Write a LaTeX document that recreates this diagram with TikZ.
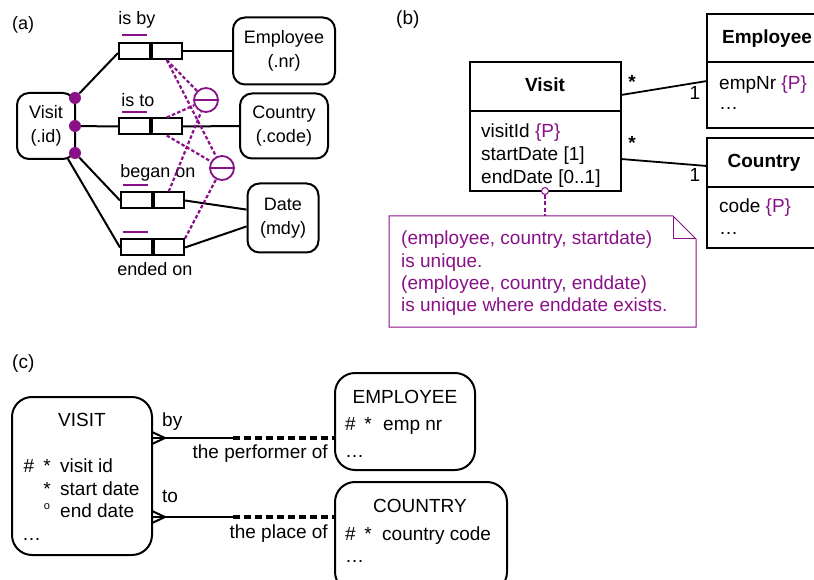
\documentclass[tikz,border=0pt]{standalone}
\usepackage{fontspec}
\setmainfont{Liberation Sans}
\usetikzlibrary{calc}
\definecolor{accent}{RGB}{136,17,136}
\begin{document}
\begin{tikzpicture}[x=1pt,y=-1pt,
  fa/.style={font=\fontsize{18}{24}\selectfont},
  fb/.style={font=\fontsize{19}{23}\selectfont},
  ormobj/.style={draw, line width=2pt, rounded corners=12pt, align=center, fa, inner sep=0pt},
  rolecell/.style={draw, line width=2pt, minimum width=30.5pt, minimum height=16pt, inner sep=0pt},
  refdot/.style={circle, fill=accent, minimum size=12pt, inner sep=0pt},
  ucirc/.style={circle, draw=accent, line width=1.8pt, minimum size=24pt, inner sep=0pt},
  ubar/.style={accent, line width=2.6pt},
  conn/.style={line width=2pt},
  pdash/.style={accent, line width=2.2pt, dash pattern=on 3.5pt off 2.2pt},
  umlbox/.style={draw, line width=2.4pt},
  lbl/.style={inner sep=0pt},
  erbox/.style={draw, line width=2pt, rounded corners=20pt, inner sep=0pt},
  erline/.style={line width=2pt},
  erdash/.style={line width=3.2pt, dash pattern=on 7pt off 4pt},
]
\clip (0,0) rectangle (814,580);

% ---------------- (a) ORM schema ----------------
\node[lbl, fa, anchor=base west] (labA) at (12,30) {(a)};

\node[ormobj, minimum width=58pt, minimum height=66pt] (visitA) at (46,126) {Visit\\(.id)};
\node[ormobj, minimum width=102pt, minimum height=67pt] (empA) at (284,51) {Employee\\(.nr)};
\node[ormobj, minimum width=88pt, minimum height=65pt] (ctyA) at (284,126) {Country\\(.code)};
\node[ormobj, minimum width=71pt, minimum height=69pt] (dateA) at (283,218) {Date\\(mdy)};

% role boxes
\node[rolecell] (byL) at (134.25,51) {};
\node[rolecell, anchor=west] (byR) at (byL.east) {};
\node[rolecell] (toL) at (134.25,126.5) {};
\node[rolecell, anchor=west] (toR) at (toL.east) {};
\node[rolecell] (begL) at (136.25,200.5) {};
\node[rolecell, anchor=west] (begR) at (begL.east) {};
\node[rolecell] (endL) at (136.25,247.5) {};
\node[rolecell, anchor=west] (endR) at (endL.east) {};

% reading labels
\node[lbl, fa] (lby) at (137,20) {is by};
\node[lbl, fa] (lto) at (138,100) {is to};
\node[lbl, fa] (lbeg) at (158,173) {began on};
\node[lbl, fa] (lend) at (155,269) {ended on};

% uniqueness bars
\draw[ubar] (122,35) -- (147,35);
\draw[ubar] (122,112) -- (147,112);
\draw[ubar] (123,185) -- (148,185);
\draw[ubar] (123,232) -- (148,232);

% mandatory role dots
\node[refdot] (m1) at (75,98) {};
\node[refdot] (m2) at (75,126) {};
\node[refdot] (m3) at (75,153) {};
\coordinate (vbot) at (68,159);

% role connectors
\draw[conn] (m1) -- ($(byL.west)+(0,2)$);
\draw[conn] (m2) -- (toL.west);
\draw[conn] (m3) -- (begL.west);
\draw[conn] (vbot) -- (endL.west);
\draw[conn] (byR.east) -- (empA.west);
\draw[conn] (toR.east) -- (ctyA.west);
\draw[conn] (begR.east) -- (dateA.167);
\draw[conn] (endR.east) -- (dateA.193);

% external uniqueness constraints
\node[ucirc] (u1) at (206,100) {};
\node[ucirc] (u2) at (222,168) {};
\draw[accent, line width=1.8pt] (u1.west) -- (u1.east);
\draw[accent, line width=1.8pt] (u2.west) -- (u2.east);

\draw[pdash] (byR.south) -- (u1);
\draw[pdash] (byR.south) -- (u2);
\draw[pdash] (toR.north) -- (u1);
\draw[pdash] (toR.south) -- (u2);
\draw[pdash] (begR.north) -- (u1);
\draw[pdash] (endR.north east) -- (u2);

% ---------------- (b) UML class diagram ----------------
\node[lbl, fb, anchor=base west] (labB) at (396,25) {(b)};

\node[umlbox, minimum width=151pt, minimum height=129pt, inner sep=0pt] (visitB) at (545.5,126.5) {};
\draw[line width=2.4pt] (470,111) -- (621,111);
\node[lbl, fb, anchor=base] (visitT) at (545,92) {\bfseries Visit};
\node[lbl, fb, anchor=base west] (va1) at (481,138) {visitId \textcolor{accent}{\{P\}}};
\node[lbl, fb, anchor=base west] (va2) at (481,161) {startDate [1]};
\node[lbl, fb, anchor=base west] (va3) at (481,184) {endDate [0..1]};

\node[umlbox, minimum width=120pt, minimum height=114pt, inner sep=0pt] (empB) at (767,71) {};
\draw[line width=2.4pt] (707,62) -- (830,62);
\node[lbl, fb, anchor=base] (empT) at (767,44) {\bfseries Employee};
\node[lbl, fb, anchor=base west] (ea1) at (719,90) {empNr \textcolor{accent}{\{P\}}};
\node[lbl, fb, anchor=base west] (ea2) at (719,110) {\dots};

\node[umlbox, minimum width=120pt, minimum height=110pt, inner sep=0pt] (ctyB) at (767,193) {};
\draw[line width=2.4pt] (707,187) -- (830,187);
\node[lbl, fb, anchor=base] (ctyT) at (764,168) {\bfseries Country};
\node[lbl, fb, anchor=base west] (ca1) at (719,213) {code \textcolor{accent}{\{P\}}};
\node[lbl, fb, anchor=base west] (ca2) at (719,235) {\dots};

\coordinate (aE1) at (621,95);
\coordinate (aE2) at (707,81);
\coordinate (aC1) at (621,159);
\coordinate (aC2) at (707,166);
\draw[line width=1.8pt] (aE1) -- (aE2);
\draw[line width=1.8pt] (aC1) -- (aC2);
\node[lbl, fb] (s1) at (632,82) {\bfseries *};
\node[lbl, fb] (o1) at (695,93) {1};
\node[lbl, fb] (s2) at (632,143) {\bfseries *};
\node[lbl, fb] (o2) at (695,175) {1};

% note attached to Visit
\node[circle, draw=accent, line width=1pt, minimum size=7pt, inner sep=0pt, fill=white] (anch) at (545,191) {};
\coordinate (notetop) at (545,216);
\draw[accent, line width=1.6pt, dash pattern=on 4pt off 2.5pt] (anch) -- (notetop);
\draw[accent, line width=1pt] (389,216) -- (673,216) -- (696,239) -- (696,327) -- (389,327) -- cycle;
\draw[accent, line width=1pt] (673,216) -- (673,239) -- (696,239);
\node[lbl, fb, text=accent, anchor=base west] (n1) at (401,245) {(employee, country, startdate)};
\node[lbl, fb, text=accent, anchor=base west] (n2) at (401,267) {is unique.};
\node[lbl, fb, text=accent, anchor=base west] (n3) at (401,289) {(employee, country, enddate)};
\node[lbl, fb, text=accent, anchor=base west] (n4) at (401,311) {is unique where enddate exists.};

% ---------------- (c) Barker ER diagram ----------------
\node[lbl, fb, anchor=base west] (labC) at (12,368) {(c)};

\node[erbox, minimum width=140pt, minimum height=158pt] (visitC) at (82,476) {};
\node[lbl, fb] (visitCT) at (82,420) {VISIT};
\node[lbl, fb, anchor=base] (h1) at (29,472) {\#};
\node[lbl, fb, anchor=base] (k1) at (47,472) {*};
\node[lbl, fb, anchor=base west] (t1) at (60,472) {visit id};
\node[lbl, fb, anchor=base] (k2) at (47,495) {*};
\node[lbl, fb, anchor=base west] (t2) at (60,495) {start date};
\node[lbl, anchor=base] (k3) at (47,509) {\fontsize{11}{11}\selectfont o};
\node[lbl, fb, anchor=base west] (t3) at (60,517) {end date};
\node[lbl, fb, anchor=base west] (t4) at (22,540) {\dots};

\node[erbox, minimum width=140pt, minimum height=97pt] (empC) at (405,421.5) {};
\node[lbl, fb, anchor=base] (empCT) at (405,403) {EMPLOYEE};
\node[lbl, fb, anchor=base west] (e1) at (345,430) {\#};
\node[lbl, fb, anchor=base] (e2) at (368,430) {*};
\node[lbl, fb, anchor=base west] (e3) at (383,430) {emp nr};
\node[lbl, fb, anchor=base west] (e4) at (345,457) {\dots};

\node[erbox, minimum width=172pt, minimum height=110pt] (ctyC) at (421,537) {};
\node[lbl, fb, anchor=base] (ctyCT) at (420,512) {COUNTRY};
\node[lbl, fb, anchor=base west] (c1) at (345,540) {\#};
\node[lbl, fb, anchor=base] (c2) at (368,540) {*};
\node[lbl, fb, anchor=base west] (c3) at (382,540) {country code};
\node[lbl, fb, anchor=base west] (c4) at (345,562) {\dots};

% relationship "by" / "the performer of"
\coordinate (r1a) at (152,438);
\coordinate (r1m) at (233,438);
\coordinate (r1b) at (335,438);
\coordinate (r1c) at (165,438);
\draw[erline] (r1a) -- (r1m);
\draw[erline] ($(r1a)+(0,-6)$) -- (r1c) -- ($(r1a)+(0,6)$);
\draw[erdash] (r1m) -- (r1b);
\node[lbl, fb, anchor=base west] (by) at (162,426) {by};
\node[lbl, fb, anchor=base east] (perf) at (328,458) {the performer of};

% relationship "to" / "the place of"
\coordinate (r2a) at (152,517);
\coordinate (r2m) at (233,517);
\coordinate (r2b) at (335,517);
\coordinate (r2c) at (165,517);
\draw[erline] (r2a) -- (r2m);
\draw[erline] ($(r2a)+(0,-6)$) -- (r2c) -- ($(r2a)+(0,6)$);
\draw[erdash] (r2m) -- (r2b);
\node[lbl, fb, anchor=base west] (to) at (162,502) {to};
\node[lbl, fb, anchor=base east] (place) at (328,538) {the place of};
\end{tikzpicture}
\end{document}
